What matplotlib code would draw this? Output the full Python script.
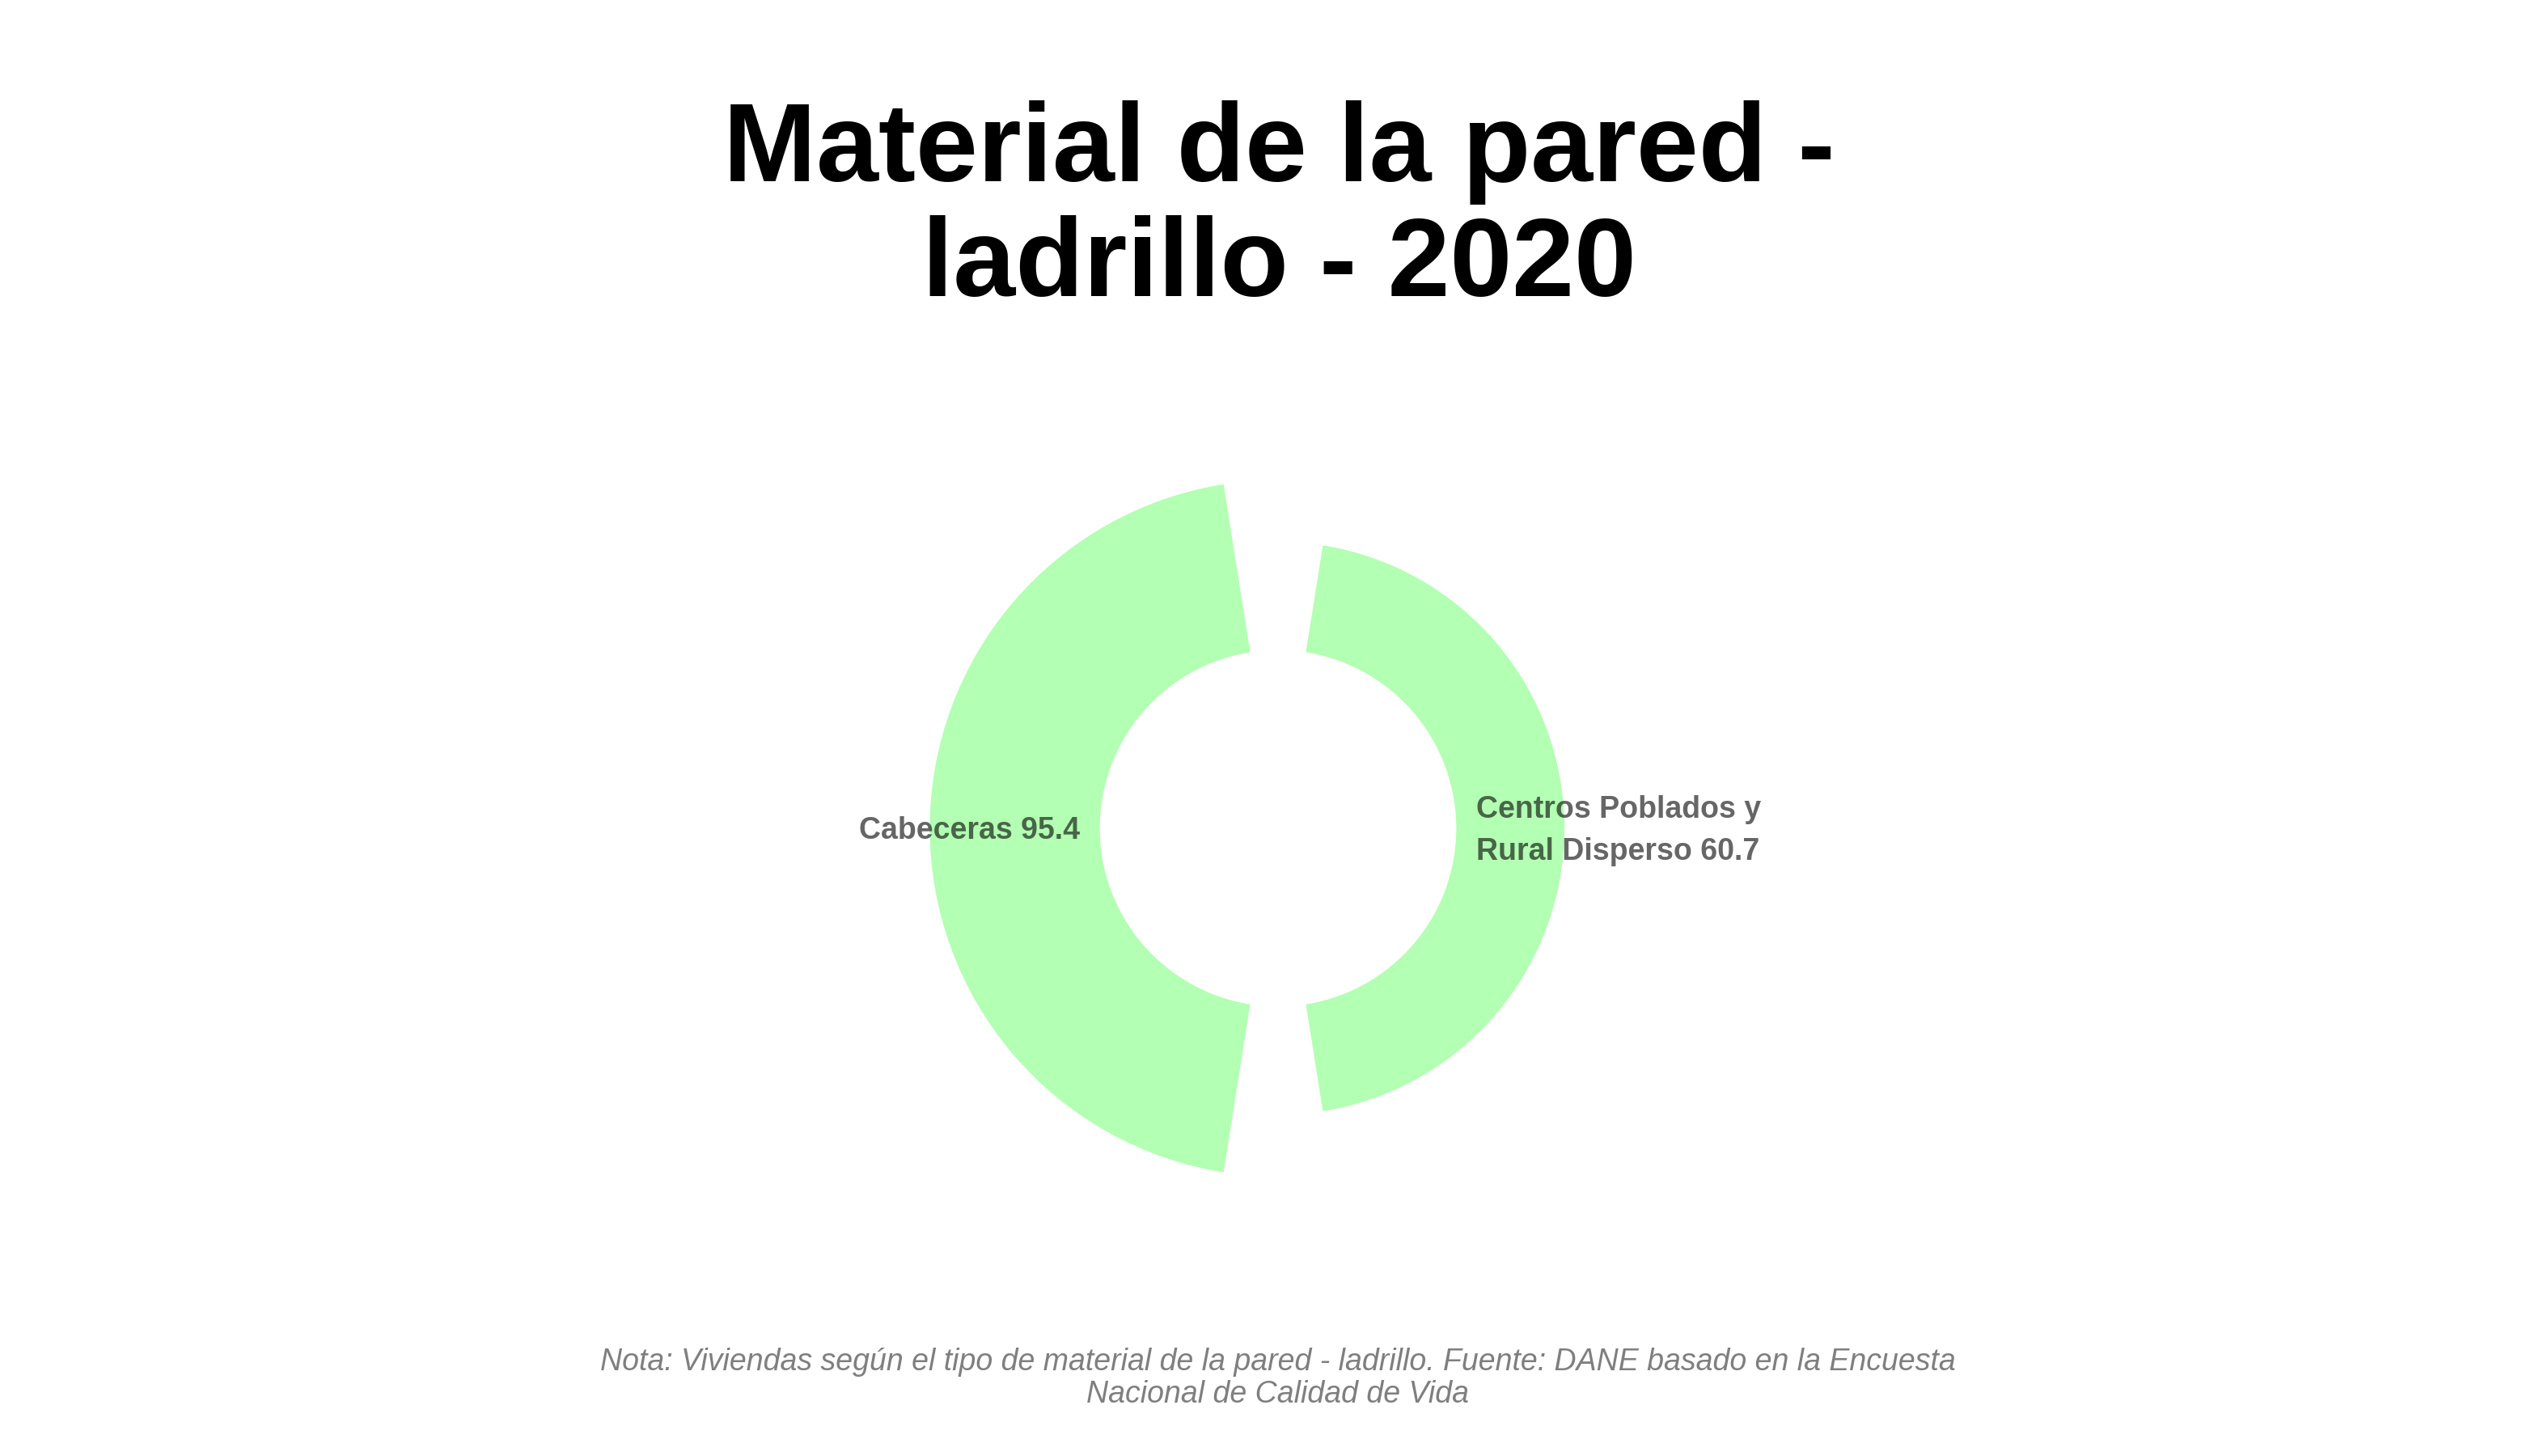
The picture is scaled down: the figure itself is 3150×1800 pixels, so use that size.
import numpy as np
import matplotlib.pyplot as plt

plt.rcParams['font.family'] = ['Liberation Sans', 'DejaVu Sans']

# data
categories = ["Cabeceras", "Centros Poblados y\nRural Disperso"]
values = [95.4, 60.7]
title = "Material de la pared -\nladrillo - 2020"
note = ("Nota: Viviendas según el tipo de material de la pared - ladrillo. "
        "Fuente: DANE basado en la Encuesta\nNacional de Calidad de Vida")

hole = 100      # empty radius in the middle of the ring
r_max = 200
fill = "#B3FFB3"

fig = plt.figure(figsize=(31.5, 18), dpi=100)
ax = fig.add_axes([0.36168, 0.18628, 0.27981, 0.48967], projection='polar')

n = len(values)
step = 2 * np.pi / n
theta = np.pi - np.arange(n) * step

ax.bar(theta, values, width=0.9 * step, bottom=hole, color=fill,
       linewidth=0, align='center')
ax.set_ylim(0, r_max)
ax.axis('off')

for t, cat, v in zip(theta, categories, values):
    ha = 'right' if np.cos(t) < 0 else 'left'
    ax.annotate(f"{cat} {v}", xy=(t, hole + 11), xytext=(0, -2),
                textcoords='offset points', ha=ha, va='center',
                fontsize=27, fontweight='bold', color='black', alpha=0.6,
                linespacing=1.58)

fig.text(0.502, 0.931, title, ha='center', va='top', fontsize=99.5,
         fontweight='bold', color='black', linespacing=1.13)
fig.text(0.5015, 0.0745, note, ha='center', va='top', fontsize=27,
         style='italic', color='#7F7F7F', linespacing=1.13)

fig.savefig("out.png", dpi=100, facecolor='white')
